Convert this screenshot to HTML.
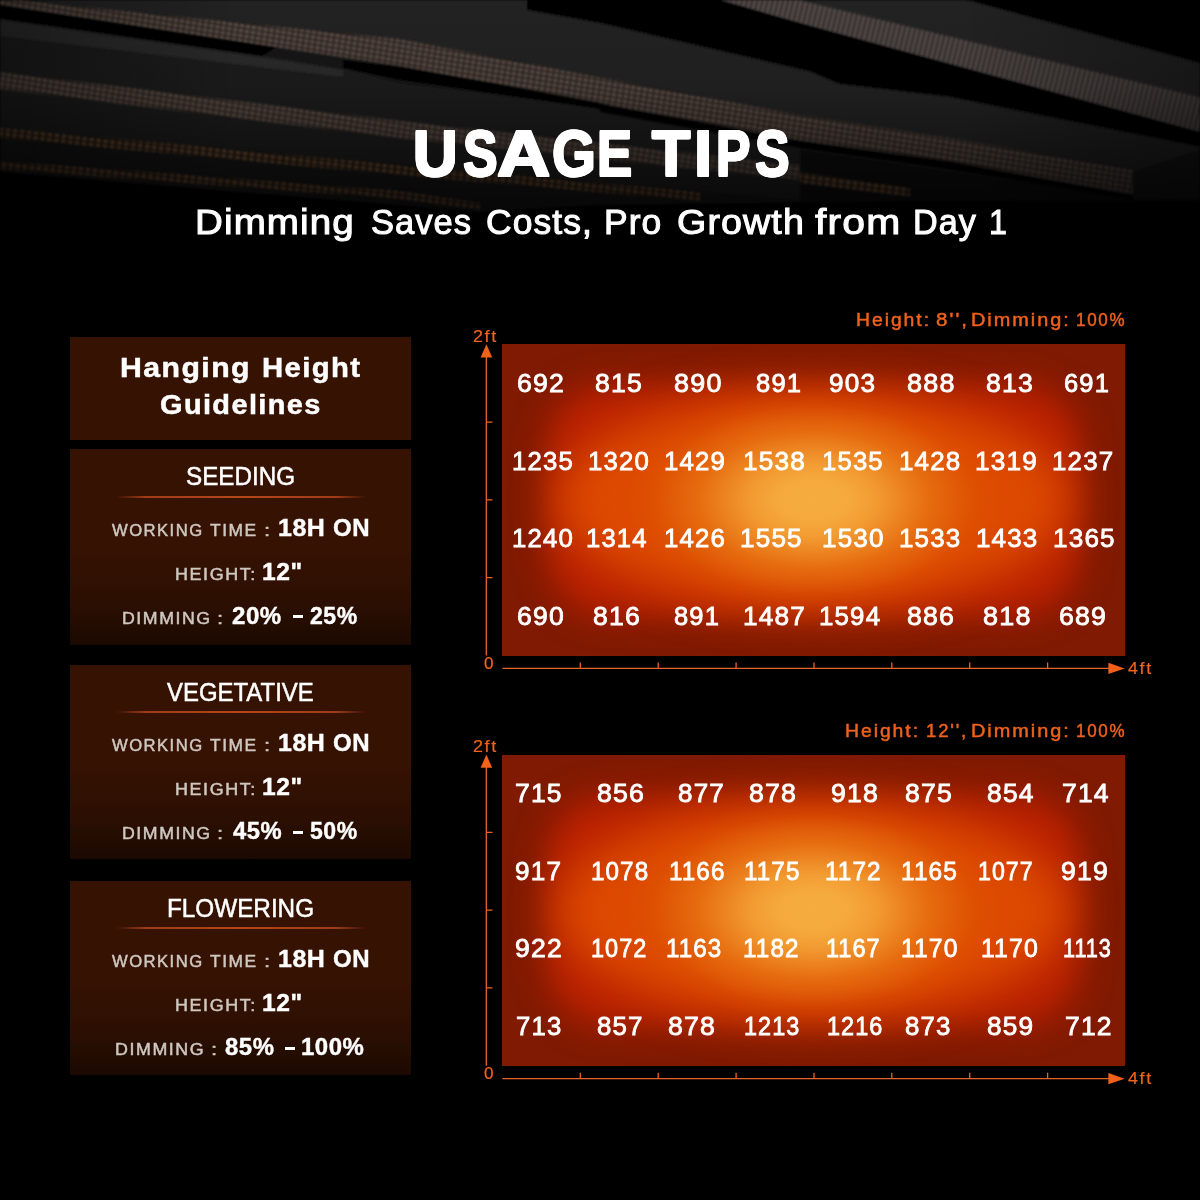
<!DOCTYPE html>
<html>
<head>
<meta charset="utf-8">
<title>Usage Tips</title>
<style>
  html, body { margin: 0; padding: 0; background: #000; }
  body { width: 1200px; height: 1200px; position: relative; overflow: hidden;
         font-family: "Liberation Sans", sans-serif; color: #fff; }
  #bg { position: absolute; left: 0; top: 0; width: 1200px; height: 260px; }
  .t { position: absolute; white-space: pre; line-height: 1; transform-origin: 0 0; font-family: "Liberation Sans", sans-serif; }
  .ttl { font-weight:bold;font-size:64.6px;color:#fff;text-shadow:-1.0px -1.0px 0 #fff,-1.0px 0px 0 #fff,-1.0px 1.0px 0 #fff,0px -1.0px 0 #fff,0px 1.0px 0 #fff,1.0px -1.0px 0 #fff,1.0px 0px 0 #fff,1.0px 1.0px 0 #fff; }
  .sub { font-size:34.3px;color:#fff;-webkit-text-stroke:1px #fff;letter-spacing:1px; }
  .ph { font-weight:bold;font-size:27.3px;color:#fff;letter-spacing:1.3px;-webkit-text-stroke:0.5px #fff; }
  .stg { font-size:25px;color:#fff;-webkit-text-stroke:0.5px #fff; }
  .key { font-size:17px;color:#cfc7c1;-webkit-text-stroke:0.5px #cfc7c1;letter-spacing:1.5px; }
  .val { font-weight:bold;font-size:23.3px;color:#fff;letter-spacing:0.5px;-webkit-text-stroke:0.4px #fff; }
  .cap { font-size:18px;color:#f0621c;-webkit-text-stroke:0.45px #f0621c;letter-spacing:1.8px; }
  .axl { font-size:17.3px;color:#ee6420;-webkit-text-stroke:0.2px #ee6420;letter-spacing:1.6px; }
  .num { font-size:26.3px;color:#fff;-webkit-text-stroke:0.85px #fff;letter-spacing:1.2px; }
  .dash { position:absolute; display:block; background:#fff; }

  .panel { position: absolute; left: 69.75px; width: 341.5px; height: 195.5px;
           background: linear-gradient(to bottom, #361202 0%, #361202 50%, #2b0f02 80%, #1b0901 100%); }
  #p0 { top: 336.5px; height: 103.25px; background: #361202; }
  #p1 { top: 449.25px; }
  #p2 { top: 664.5px; height: 194.75px; }
  #p3 { top: 880.5px; height: 194.75px; }
  .rule { position: absolute; left: 46px; width: 250px; top: 46.8px; height: 1.6px;
          background: linear-gradient(to right, rgba(170,62,22,0) 0%, #a23c16 12%, #b4461a 50%, #a23c16 88%, rgba(170,62,22,0) 100%); }

  .heat { position: absolute; left: 502.4px; width: 623.1px; height: 311.3px; background: #801a02; overflow: hidden; }
  #h1 { top: 344.25px; } #h2 { top: 754.5px; }
  .heat i { position: absolute; display: block; }
  .heat .l1 { left: 44px; right: 44px; top: 40px; bottom: 40px; border-radius: 60px; background: #b82000; filter: blur(16px); }
  .heat .l2 { left: 54px; right: 54px; top: 48px; bottom: 48px; border-radius: 50%; background: #dc4a00; filter: blur(22px); }
  .heat .l3 { left: 0; top: 0; width: 100%; height: 100%;
      background: radial-gradient(ellipse 188px 112px at 50% 50%, rgba(246,172,62,1) 0%, rgba(246,172,62,.98) 18%, rgba(245,165,55,.88) 34%, rgba(240,140,30,.5) 62%, rgba(232,110,10,.14) 86%, rgba(230,100,0,0) 100%); }
  svg.axes { position: absolute; left: 0; top: 0; width: 1200px; height: 1200px; }
</style>
</head>
<body>
<svg id="bg" viewBox="0 0 1200 260">
  <defs>
    <filter id="b1" x="-5%" y="-20%" width="110%" height="140%"><feGaussianBlur stdDeviation="1.2"/></filter>
    <filter id="b4" x="-5%" y="-20%" width="110%" height="140%"><feGaussianBlur stdDeviation="3"/></filter>
    <pattern id="dots" width="6" height="5" patternUnits="userSpaceOnUse" patternTransform="rotate(9)">
      <rect width="6" height="5" fill="#2e2622"/><rect x="1" y="1" width="4" height="3" fill="#5e5048"/>
    </pattern>
    <pattern id="dotsg" width="5" height="6" patternUnits="userSpaceOnUse" patternTransform="rotate(14)">
      <rect width="5" height="6" fill="#2c2725"/><rect x="1" y="0" width="3" height="6" fill="#544c48"/>
    </pattern>
    <pattern id="dots2" width="7" height="5" patternUnits="userSpaceOnUse" patternTransform="rotate(7)">
      <rect width="7" height="5" fill="#221b16"/><rect x="1" y="1" width="4" height="3" fill="#6a4a30"/>
    </pattern>
    <linearGradient id="bodyg" x1="0" x2="0" y1="0" y2="1">
      <stop offset="0" stop-color="#2a2a2a"/><stop offset="1" stop-color="#171717"/>
    </linearGradient>
    <linearGradient id="fadeV" x1="0" x2="0" y1="0" y2="1">
      <stop offset="0" stop-color="#000" stop-opacity="0"/><stop offset="0.4" stop-color="#000" stop-opacity="0.08"/>
      <stop offset="0.75" stop-color="#000" stop-opacity="0.45"/><stop offset="1" stop-color="#000" stop-opacity="0.7"/>
    </linearGradient>
    <linearGradient id="fadeL" x1="0" x2="1" y1="0" y2="0">
      <stop offset="0" stop-color="#000" stop-opacity="0.35"/><stop offset="0.2" stop-color="#000" stop-opacity="0"/>
      <stop offset="0.8" stop-color="#000" stop-opacity="0"/><stop offset="1" stop-color="#000" stop-opacity="0.3"/>
    </linearGradient>
  </defs>
  <g filter="url(#b1)">
    <!-- base -->
    <polygon points="0,0 1200,0 1200,199 600,205 480,212 0,172" fill="#171717"/>
    <!-- body above strip 1 (left/mid) -->
    <polygon points="15,0 527,0 527,10 600,23 812,72 840,84 950,97 1200,147 1200,200 1133,172 950,138 800,115 650,87 400,39" fill="#202020"/>
    <!-- body 2 under black band 1 -->
    <polygon points="0,18 260,55 340,68 400,84 607,108 800,140 800,165 400,121 0,72" fill="#1e1e1e"/>
    <polygon points="0,20 260,57 343,70 343,77 0,36" fill="#292929"/>
    <!-- body between strips -->
    <polygon points="0,89 400,138 800,180 800,200 0,128" fill="#1c1c1c"/>
    <!-- big black region (heatsink + gap) -->
    <polygon points="527,0 720,0 800,23 1200,132 1200,147 950,97 840,84 812,72 600,23 527,10" fill="#040404"/>
    <!-- black band 1 -->
    <polygon points="0,5 277,47 262,56 0,19" fill="#020202"/>
    <!-- black band 2 -->
    <polygon points="343,60 400,67 610,103 607,110 400,80 343,68" fill="#030303"/>
    <!-- bar 2 body right -->
    
    <!-- top right body and corner -->
    <polygon points="800,0 967,0 1200,63 1200,97" fill="#222"/>
    <polygon points="967,0 1200,0 1200,63" fill="#020202"/>
    <!-- right bottom -->
    <polygon points="1133,172 1200,150 1200,203 1133,203" fill="#121212"/>
    <polygon points="800,150 1133,198 1133,203 800,203" fill="#0c0c0c"/>
  </g>
  <g filter="url(#b1)">
    <!-- strip 1: long -->
    <polygon points="0,0 15,0 400,39 650,87 800,115 950,138 1133,170 1133,194 950,161 800,140 650,112 400,66 0,5" fill="url(#dots)"/>
    <polygon points="600,104 800,141 950,162 1133,195 1133,200 940,168 800,148 600,112" fill="#050505"/>
    <!-- strip R1 -->
    <polygon points="720,0 800,0 1200,97 1200,132 800,23" fill="url(#dotsg)"/>
    <!-- strip 2 -->
    <polygon points="0,72 400,121 800,165 800,180 400,138 0,89" fill="url(#dots)"/>
    <!-- strip 3 -->
    <polygon points="0,128 400,165 700,192 700,201 400,175 0,138" fill="url(#dots2)"/>
    <!-- strip 4 -->
    <polygon points="0,161 200,176 400,191 480,203 480,210 400,199 200,184 0,169" fill="url(#dots2)"/>
    <!-- strip right low -->
    <polygon points="800,172 910,188 910,197 800,183" fill="url(#dots2)"/>
  </g>
  <!-- bottom fade to black -->
  <polygon points="0,174 480,214 600,207 900,201 1200,200 1200,260 0,260" fill="#000" filter="url(#b1)"/>
  <rect x="0" y="0" width="1200" height="215" fill="url(#fadeL)"/>
  <rect x="0" y="0" width="1200" height="215" fill="url(#fadeV)"/>
</svg>

<div class="panel" id="p0"></div>
<div class="panel" id="p1"><div class="rule"></div></div>
<div class="panel" id="p2"><div class="rule"></div></div>
<div class="panel" id="p3"><div class="rule"></div></div>

<div class="heat" id="h1"><i class="l1"></i><i class="l2"></i><i class="l3"></i></div>
<div class="heat" id="h2"><i class="l1"></i><i class="l2"></i><i class="l3"></i></div>

<svg class="axes" viewBox="0 0 1200 1200">
  <g fill="none" stroke="#e8622a" stroke-width="1.3">
      <!-- y axis -->
      <path d="M486.3 356 V655.5" />
      <path d="M486.3 422.1 h6.2 M486.3 499.9 h6.2 M486.3 577.7 h6.2" />
      <!-- x axis -->
      <path d="M502.4 668.4 H1110" />
      <path d="M580.3 668.4 v-6 M658.2 668.4 v-6 M736.1 668.4 v-6 M814 668.4 v-6 M891.8 668.4 v-6 M969.7 668.4 v-6 M1047.6 668.4 v-6" />
      <path d="M486.4 344.3 L492.2 357.6 H480.6 Z" fill="#f2601a" stroke="none"/>
      <path d="M1124.6 668.4 L1108.4 674.1 V662.7 Z" fill="#f2601a" stroke="none"/>
    </g>
  <g fill="none" stroke="#e8622a" stroke-width="1.3" transform="translate(0,410.25)">
      <!-- y axis -->
      <path d="M486.3 356 V655.5" />
      <path d="M486.3 422.1 h6.2 M486.3 499.9 h6.2 M486.3 577.7 h6.2" />
      <!-- x axis -->
      <path d="M502.4 668.4 H1110" />
      <path d="M580.3 668.4 v-6 M658.2 668.4 v-6 M736.1 668.4 v-6 M814 668.4 v-6 M891.8 668.4 v-6 M969.7 668.4 v-6 M1047.6 668.4 v-6" />
      <path d="M486.4 344.3 L492.2 357.6 H480.6 Z" fill="#f2601a" stroke="none"/>
      <path d="M1124.6 668.4 L1108.4 674.1 V662.7 Z" fill="#f2601a" stroke="none"/>
    </g>
</svg>

<span class="t ttl" style="left:413.17px;top:121.80px;transform:scaleX(0.9561)">U</span>
<span class="t ttl" style="left:462.50px;top:121.80px;transform:scaleX(0.8025)">S</span>
<span class="t ttl" style="left:497.44px;top:121.80px;transform:scaleX(1.1425)">A</span>
<span class="t ttl" style="left:551.99px;top:121.80px;transform:scaleX(0.8743)">G</span>
<span class="t ttl" style="left:596.53px;top:121.80px;transform:scaleX(0.8208)">E</span>
<span class="t ttl" style="left:652.24px;top:121.80px;transform:scaleX(0.9700)">T</span>
<span class="t ttl" style="left:694.19px;top:121.80px;transform:scaleX(1.0174)">I</span>
<span class="t ttl" style="left:715.71px;top:121.80px;transform:scaleX(0.7974)">P</span>
<span class="t ttl" style="left:755.00px;top:121.80px;transform:scaleX(0.8025)">S</span>
<span class="t sub" style="left:195.47px;top:205.25px;transform:scaleX(1.1236)">Dimming</span>
<span class="t sub" style="left:371.49px;top:205.25px;transform:scaleX(1.0077)">Saves</span>
<span class="t sub" style="left:486.21px;top:205.25px;transform:scaleX(1.0355)">Costs,</span>
<span class="t sub" style="left:603.67px;top:205.25px;transform:scaleX(1.0335)">Pro</span>
<span class="t sub" style="left:677.38px;top:205.25px;transform:scaleX(1.0976)">Growth</span>
<span class="t sub" style="left:815.00px;top:205.25px;transform:scaleX(1.1900)">from</span>
<span class="t sub" style="left:912.76px;top:205.25px;transform:scaleX(0.9959)">Day</span>
<span class="t sub" style="left:989.12px;top:205.25px;transform:scaleX(0.9375)">1</span>
<span class="t ph" style="left:119.59px;top:354.25px;transform:scaleX(1.1075)">Hanging</span>
<span class="t ph" style="left:262.14px;top:354.25px;transform:scaleX(1.0724)">Height</span>
<span class="t ph" style="left:160.45px;top:391.25px;transform:scaleX(1.0601)">Guidelines</span>
<span class="t stg" style="left:186.27px;top:464.30px;transform:scaleX(0.9683)">SEEDING</span>
<span class="t key" style="left:112.24px;top:522.00px;transform:scaleX(0.9781)">WORKING</span>
<span class="t key" style="left:209.50px;top:522.00px;transform:scaleX(1.0225)">TIME</span>
<span class="t key" style="left:264.16px;top:522.00px;transform:scaleX(1.3000)">:</span>
<span class="t val" style="left:278.16px;top:517.00px;transform:scaleX(1.0727)">18H</span>
<span class="t val" style="left:332.98px;top:517.00px;transform:scaleX(1.0301)">ON</span>
<span class="t key" style="left:174.93px;top:566.00px;transform:scaleX(1.0544)">HEIGHT:</span>
<span class="t val" style="left:262.43px;top:561.00px;transform:scaleX(1.0563)">12&quot;</span>
<span class="t key" style="left:122.45px;top:609.90px;transform:scaleX(1.0426)">DIMMING</span>
<span class="t key" style="left:217.16px;top:609.90px;transform:scaleX(1.3000)">:</span>
<span class="t val" style="left:232.48px;top:604.90px;transform:scaleX(1.0321)">20%</span>
<span class="t val" style="left:309.51px;top:604.90px;transform:scaleX(0.9893)">25%</span>
<span class="t stg" style="left:167.24px;top:679.55px;transform:scaleX(0.9574)">VEGETATIVE</span>
<span class="t key" style="left:112.24px;top:737.25px;transform:scaleX(0.9781)">WORKING</span>
<span class="t key" style="left:209.50px;top:737.25px;transform:scaleX(1.0225)">TIME</span>
<span class="t key" style="left:264.16px;top:737.25px;transform:scaleX(1.3000)">:</span>
<span class="t val" style="left:278.16px;top:732.25px;transform:scaleX(1.0727)">18H</span>
<span class="t val" style="left:332.98px;top:732.25px;transform:scaleX(1.0301)">ON</span>
<span class="t key" style="left:174.93px;top:781.25px;transform:scaleX(1.0544)">HEIGHT:</span>
<span class="t val" style="left:262.43px;top:776.25px;transform:scaleX(1.0563)">12&quot;</span>
<span class="t key" style="left:122.45px;top:825.15px;transform:scaleX(1.0426)">DIMMING</span>
<span class="t key" style="left:217.16px;top:825.15px;transform:scaleX(1.3000)">:</span>
<span class="t val" style="left:233.00px;top:820.15px;transform:scaleX(1.0212)">45%</span>
<span class="t val" style="left:309.51px;top:820.15px;transform:scaleX(0.9893)">50%</span>
<span class="t stg" style="left:167.05px;top:895.55px;transform:scaleX(0.9713)">FLOWERING</span>
<span class="t key" style="left:112.24px;top:953.25px;transform:scaleX(0.9781)">WORKING</span>
<span class="t key" style="left:209.50px;top:953.25px;transform:scaleX(1.0225)">TIME</span>
<span class="t key" style="left:264.16px;top:953.25px;transform:scaleX(1.3000)">:</span>
<span class="t val" style="left:278.16px;top:948.25px;transform:scaleX(1.0727)">18H</span>
<span class="t val" style="left:332.98px;top:948.25px;transform:scaleX(1.0301)">ON</span>
<span class="t key" style="left:174.93px;top:997.25px;transform:scaleX(1.0544)">HEIGHT:</span>
<span class="t val" style="left:262.43px;top:992.25px;transform:scaleX(1.0563)">12&quot;</span>
<span class="t key" style="left:114.94px;top:1041.15px;transform:scaleX(1.0486)">DIMMING</span>
<span class="t key" style="left:211.16px;top:1041.15px;transform:scaleX(1.3000)">:</span>
<span class="t val" style="left:225.24px;top:1036.15px;transform:scaleX(1.0267)">85%</span>
<span class="t val" style="left:301.21px;top:1036.15px;transform:scaleX(1.0294)">100%</span>
<span class="t cap" style="left:856.15px;top:311.00px;transform:scaleX(1.0769)">Height:</span>
<span class="t cap" style="left:935.68px;top:311.00px;transform:scaleX(1.1386)">8&#x27;&#x27;,</span>
<span class="t cap" style="left:971.12px;top:311.00px;transform:scaleX(1.1047)">Dimming:</span>
<span class="t cap" style="left:1076.32px;top:311.00px;transform:scaleX(0.9447)">100%</span>
<span class="t cap" style="left:844.90px;top:722.25px;transform:scaleX(1.0769)">Height:</span>
<span class="t cap" style="left:926.22px;top:722.25px;transform:scaleX(1.0274)">12&#x27;&#x27;,</span>
<span class="t cap" style="left:971.12px;top:722.25px;transform:scaleX(1.1047)">Dimming:</span>
<span class="t cap" style="left:1076.32px;top:722.25px;transform:scaleX(0.9447)">100%</span>
<span class="t axl" style="left:472.97px;top:327.80px;transform:scaleX(1.0345)">2ft</span>
<span class="t axl" style="left:483.71px;top:654.70px;transform:scaleX(0.9882)">0</span>
<span class="t axl" style="left:1128.24px;top:659.50px;transform:scaleX(1.0337)">4ft</span>
<span class="t axl" style="left:472.97px;top:738.05px;transform:scaleX(1.0345)">2ft</span>
<span class="t axl" style="left:483.71px;top:1064.95px;transform:scaleX(0.9882)">0</span>
<span class="t axl" style="left:1128.24px;top:1069.75px;transform:scaleX(1.0337)">4ft</span>
<span class="t num" style="left:517.34px;top:370.00px;transform:scaleX(1.0145)">692</span>
<span class="t num" style="left:595.24px;top:370.00px;transform:scaleX(1.0123)">815</span>
<span class="t num" style="left:673.93px;top:370.00px;transform:scaleX(1.0244)">890</span>
<span class="t num" style="left:755.77px;top:370.00px;transform:scaleX(0.9721)">891</span>
<span class="t num" style="left:829.25px;top:370.00px;transform:scaleX(0.9944)">903</span>
<span class="t num" style="left:907.33px;top:370.00px;transform:scaleX(1.0257)">888</span>
<span class="t num" style="left:985.74px;top:370.00px;transform:scaleX(1.0145)">813</span>
<span class="t num" style="left:1063.97px;top:370.00px;transform:scaleX(0.9698)">691</span>
<span class="t num" style="left:511.83px;top:447.50px;transform:scaleX(0.9783)">1235</span>
<span class="t num" style="left:587.83px;top:447.50px;transform:scaleX(0.9783)">1320</span>
<span class="t num" style="left:664.43px;top:447.50px;transform:scaleX(0.9808)">1429</span>
<span class="t num" style="left:743.31px;top:447.50px;transform:scaleX(0.9950)">1538</span>
<span class="t num" style="left:822.43px;top:447.50px;transform:scaleX(0.9767)">1535</span>
<span class="t num" style="left:899.22px;top:447.50px;transform:scaleX(0.9867)">1428</span>
<span class="t num" style="left:975.21px;top:447.50px;transform:scaleX(0.9941)">1319</span>
<span class="t num" style="left:1051.72px;top:447.50px;transform:scaleX(0.9858)">1237</span>
<span class="t num" style="left:511.83px;top:525.00px;transform:scaleX(0.9783)">1240</span>
<span class="t num" style="left:586.04px;top:525.00px;transform:scaleX(0.9726)">1314</span>
<span class="t num" style="left:663.83px;top:525.00px;transform:scaleX(0.9783)">1426</span>
<span class="t num" style="left:739.81px;top:525.00px;transform:scaleX(0.9917)">1555</span>
<span class="t num" style="left:822.41px;top:525.00px;transform:scaleX(0.9900)">1530</span>
<span class="t num" style="left:899.22px;top:525.00px;transform:scaleX(0.9867)">1533</span>
<span class="t num" style="left:976.02px;top:525.00px;transform:scaleX(0.9867)">1433</span>
<span class="t num" style="left:1052.51px;top:525.00px;transform:scaleX(0.9917)">1365</span>
<span class="t num" style="left:517.34px;top:602.50px;transform:scaleX(1.0089)">690</span>
<span class="t num" style="left:593.14px;top:602.50px;transform:scaleX(1.0123)">816</span>
<span class="t num" style="left:673.97px;top:602.50px;transform:scaleX(0.9698)">891</span>
<span class="t num" style="left:742.51px;top:602.50px;transform:scaleX(0.9958)">1487</span>
<span class="t num" style="left:819.23px;top:602.50px;transform:scaleX(0.9826)">1594</span>
<span class="t num" style="left:907.34px;top:602.50px;transform:scaleX(1.0145)">886</span>
<span class="t num" style="left:982.53px;top:602.50px;transform:scaleX(1.0257)">818</span>
<span class="t num" style="left:1058.54px;top:602.50px;transform:scaleX(1.0145)">689</span>
<span class="t num" style="left:514.99px;top:780.25px;transform:scaleX(1.0067)">715</span>
<span class="t num" style="left:596.54px;top:780.25px;transform:scaleX(1.0145)">856</span>
<span class="t num" style="left:678.46px;top:780.25px;transform:scaleX(0.9899)">877</span>
<span class="t num" style="left:749.34px;top:780.25px;transform:scaleX(1.0145)">878</span>
<span class="t num" style="left:831.14px;top:780.25px;transform:scaleX(1.0123)">918</span>
<span class="t num" style="left:905.24px;top:780.25px;transform:scaleX(1.0123)">875</span>
<span class="t num" style="left:986.55px;top:780.25px;transform:scaleX(1.0033)">854</span>
<span class="t num" style="left:1061.79px;top:780.25px;transform:scaleX(1.0067)">714</span>
<span class="t num" style="left:514.75px;top:857.75px;transform:scaleX(0.9944)">917</span>
<span class="t num" style="left:591.42px;top:857.75px;transform:scaleX(0.9200)">1078</span>
<span class="t num" style="left:668.72px;top:857.75px;transform:scaleX(0.9207)">1166</span>
<span class="t num" style="left:743.92px;top:857.75px;transform:scaleX(0.9207)">1175</span>
<span class="t num" style="left:825.11px;top:857.75px;transform:scaleX(0.9247)">1172</span>
<span class="t num" style="left:901.41px;top:857.75px;transform:scaleX(0.9293)">1165</span>
<span class="t num" style="left:977.98px;top:857.75px;transform:scaleX(0.8803)">1077</span>
<span class="t num" style="left:1061.24px;top:857.75px;transform:scaleX(1.0123)">919</span>
<span class="t num" style="left:514.74px;top:935.25px;transform:scaleX(1.0123)">922</span>
<span class="t num" style="left:591.46px;top:935.25px;transform:scaleX(0.8921)">1072</span>
<span class="t num" style="left:666.12px;top:935.25px;transform:scaleX(0.9190)">1163</span>
<span class="t num" style="left:743.42px;top:935.25px;transform:scaleX(0.9229)">1182</span>
<span class="t num" style="left:825.96px;top:935.25px;transform:scaleX(0.8918)">1167</span>
<span class="t num" style="left:901.39px;top:935.25px;transform:scaleX(0.9379)">1170</span>
<span class="t num" style="left:980.59px;top:935.25px;transform:scaleX(0.9431)">1170</span>
<span class="t num" style="left:1062.67px;top:935.25px;transform:scaleX(0.8232)">1113</span>
<span class="t num" style="left:515.52px;top:1012.75px;transform:scaleX(0.9775)">713</span>
<span class="t num" style="left:596.56px;top:1012.75px;transform:scaleX(0.9832)">857</span>
<span class="t num" style="left:667.74px;top:1012.75px;transform:scaleX(1.0145)">878</span>
<span class="t num" style="left:743.96px;top:1012.75px;transform:scaleX(0.8900)">1213</span>
<span class="t num" style="left:826.76px;top:1012.75px;transform:scaleX(0.8900)">1216</span>
<span class="t num" style="left:905.26px;top:1012.75px;transform:scaleX(0.9832)">873</span>
<span class="t num" style="left:986.55px;top:1012.75px;transform:scaleX(0.9966)">859</span>
<span class="t num" style="left:1065.49px;top:1012.75px;transform:scaleX(1.0067)">712</span>
<i class="dash" style="left:292.50px;top:615.25px;width:10.00px;height:3.00px"></i>
<i class="dash" style="left:292.50px;top:830.50px;width:10.00px;height:3.00px"></i>
<i class="dash" style="left:285.20px;top:1046.50px;width:10.20px;height:3.00px"></i>

</body>
</html>
